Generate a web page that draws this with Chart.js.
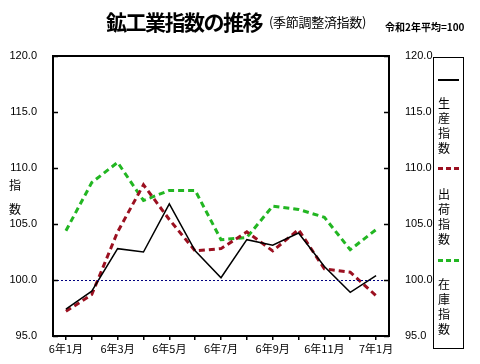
<!DOCTYPE html>
<html>
<head>
<meta charset="utf-8">
<script src="https://cdn.jsdelivr.net/npm/chart.js@4"></script>
<style>
  body { margin: 0; background: #fff; }
  #wrap { position: relative; width: 480px; height: 364px; font-family: "Noto Sans CJK JP", sans-serif; }
  canvas { position: absolute; left: 0; top: 0; }
  .t { position: absolute; white-space: nowrap; color: #000; line-height: 1; }
  #legend { position: absolute; left: 433px; top: 57px; width: 29px; height: 290px; border: 1px solid #000; }
  .lt { position: absolute; left: 4px; font-size: 12px; line-height: 15px; width: 14px; }
  .ls { position: absolute; left: 4px; height: 3px; }
  .d { display: inline-block; width: 5px; height: 3px; margin-right: 3px; vertical-align: top; }
</style>
</head>
<body>
<div id="wrap">
  <canvas id="chart" width="480" height="364"></canvas>
  <div class="t" style="left:106px; top:11px; font-size:21px; font-weight:bold; letter-spacing:-1.5px;">鉱工業指数の推移</div>
  <div class="t" style="left:269px; top:15px; font-size:13px; letter-spacing:-0.3px;">(季節調整済指数)</div>
  <div class="t" style="left:385px; top:22px; font-size:10px; font-weight:bold;">令和2年平均=100</div>
  <div class="t" style="left:9px; top:173px; font-size:12px; line-height:24px;">指<br>数</div>
  <div id="legend">
    <div class="ls" style="top:21px; width:21px; height:2px; background:#000;"></div>
    <div class="lt" style="top:37px;">生<br>産<br>指<br>数</div>
    <div class="ls" style="top:109px;"><span class="d" style="background:#9b1020"></span><span class="d" style="background:#9b1020"></span><span class="d" style="background:#9b1020"></span></div>
    <div class="lt" style="top:128px;">出<br>荷<br>指<br>数</div>
    <div class="ls" style="top:201px;"><span class="d" style="background:#22b622"></span><span class="d" style="background:#22b622"></span><span class="d" style="background:#22b622"></span></div>
    <div class="lt" style="top:218px;">在<br>庫<br>指<br>数</div>
  </div>
</div>
<script>
const months = ['6年1月', '6年2月', '6年3月', '6年4月', '6年5月', '6年6月', '6年7月',
                '6年8月', '6年9月', '6年10月', '6年11月', '6年12月', '7年1月'];
const production = [97.4, 99.0, 102.8, 102.5, 106.8, 102.6, 100.2, 103.6, 103.1, 104.2, 101.2, 98.9, 100.4];
const shipments = [97.2, 98.7, 104.3, 108.5, 105.4, 102.6, 102.8, 104.3, 102.6, 104.5, 101.0, 100.7, 98.6];
const inventory = [104.4, 108.7, 110.5, 107.1, 108.0, 108.0, 103.6, 103.8, 106.6, 106.3, 105.6, 102.7, 104.5];
const yTicks = [95, 100, 105, 110, 115, 120];

const tickFont = { family: '"Liberation Sans Narrow", "Liberation Sans", sans-serif', size: 11 };

const framePlugin = {
    id: 'frame',
    afterDatasetsDraw(chart) {
        const ctx = chart.ctx;
        const a = chart.chartArea;
        const y = chart.scales.y;
        ctx.save();
        // dotted line at 100
        ctx.strokeStyle = '#000080';
        ctx.lineWidth = 1;
        ctx.setLineDash([2, 2]);
        const p = Math.round(y.getPixelForValue(100)) + 0.5;
        ctx.beginPath();
        ctx.moveTo(a.left, p);
        ctx.lineTo(a.right, p);
        ctx.stroke();
        ctx.setLineDash([]);
        // inward ticks on both sides
        ctx.strokeStyle = '#000';
        ctx.lineWidth = 1.5;
        yTicks.forEach(v => {
            const py = Math.round(y.getPixelForValue(v)) + 0.5;
            ctx.beginPath();
            ctx.moveTo(a.left, py);
            ctx.lineTo(a.left + 5, py);
            ctx.moveTo(a.right, py);
            ctx.lineTo(a.right - 5, py);
            ctx.stroke();
        });
        ctx.lineWidth = 2;
        ctx.strokeRect(a.left, a.top, a.right - a.left, a.bottom - a.top);
        ctx.restore();
    }
};

new Chart(document.getElementById('chart'), {
    type: 'line',
    data: {
        labels: months,
        datasets: [{
            label: '生産指数',
            data: production,
            borderColor: '#000',
            borderWidth: 1.5,
            pointRadius: 0,
            tension: 0
        }, {
            label: '出荷指数',
            data: shipments,
            borderColor: '#9b1020',
            borderWidth: 3,
            borderDash: [6, 4],
            pointRadius: 0,
            tension: 0
        }, {
            label: '在庫指数',
            data: inventory,
            borderColor: '#22b622',
            borderWidth: 3,
            borderDash: [6, 4],
            pointRadius: 0,
            tension: 0
        }]
    },
    plugins: [framePlugin],
    options: {
        responsive: false,
        animation: false,
        layout: { padding: { top: 56, left: 0, right: 0, bottom: 0 } },
        plugins: {
            legend: { display: false },
            tooltip: { enabled: false }
        },
        scales: {
            x: {
                offset: true,
                border: { display: false },
                grid: { offset: false, drawOnChartArea: false, drawTicks: true, tickLength: 4, color: '#000', lineWidth: 1.5 },
                ticks: {
                    autoSkip: false,
                    maxRotation: 0,
                    padding: 2,
                    color: '#000',
                    font: { family: '"Noto Sans CJK JP", sans-serif', size: 11 },
                    callback: function(v, i) { return i % 2 === 0 ? months[i] : ''; }
                },
                afterFit(scale) { scale.height = 28; }
            },
            y: {
                min: 95,
                max: 120,
                border: { display: false },
                grid: { display: false },
                ticks: {
                    stepSize: 5,
                    padding: 8,
                    color: '#000',
                    font: tickFont,
                    callback: v => v.toFixed(1)
                },
                afterFit(scale) { scale.width = 53; }
            },
            y2: {
                position: 'right',
                min: 95,
                max: 120,
                border: { display: false },
                grid: { display: false },
                ticks: {
                    stepSize: 5,
                    padding: 8,
                    color: '#000',
                    font: tickFont,
                    callback: v => v.toFixed(1)
                },
                afterFit(scale) { scale.width = 91; }
            }
        }
    }
});
</script>
</body>
</html>
